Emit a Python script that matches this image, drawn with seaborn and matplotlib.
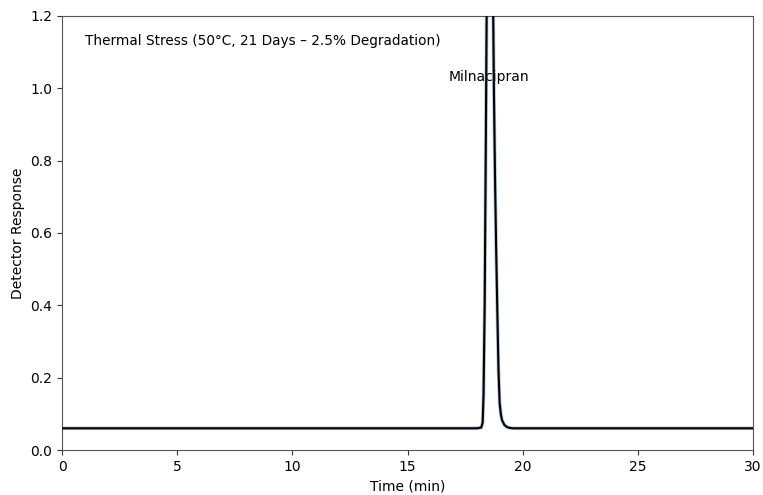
import matplotlib
matplotlib.use("Agg")
import matplotlib.pyplot as plt
import seaborn as sns
import pandas as pd

# Chromatogram trace: retention time (min) and detector response
time_min = [0.0, 5.0, 10.0, 15.0, 18.0, 18.2, 18.26, 18.3, 18.35, 18.4, 18.45,
            18.5, 18.55, 18.6, 18.65, 18.7, 18.75, 18.8, 18.85, 18.9, 18.95,
            19.0, 19.05, 19.1, 19.2, 19.3, 19.45, 19.6, 25.0, 30.0]
response = [0.060, 0.060, 0.060, 0.060, 0.060, 0.062, 0.075, 0.15, 0.40, 0.85, 1.35,
            1.95, 2.45, 2.75, 2.20, 1.35, 1.00, 0.75, 0.55, 0.38, 0.22,
            0.13, 0.10, 0.083, 0.070, 0.064, 0.061, 0.060, 0.060, 0.060]

peak_label = "Milnacipran"
peak_label_pos = (18.55, 1.03)
condition_text = "Thermal Stress (50\u00b0C, 21 Days \u2013 2.5% Degradation)"

x_ticks = [0, 5, 10, 15, 20, 25, 30]
y_ticks = [0.0, 0.2, 0.4, 0.6, 0.8, 1.0, 1.2]

sns.set_style("ticks")
plt.rcParams["font.family"] = ["DejaVu Sans"]
plt.rcParams["text.color"] = "black"
plt.rcParams["axes.labelcolor"] = "black"

df = pd.DataFrame({"Time (min)": time_min, "Detector Response": response})

fig = plt.figure(figsize=(7.63, 4.95), dpi=100)
ax = fig.add_axes([0.0813, 0.0909, 0.9056, 0.8768])

# soft blue underlay, then the black trace on top
sns.lineplot(data=df, x="Time (min)", y="Detector Response", ax=ax,
             color="#4a7fb0", linewidth=2.6, alpha=0.45, estimator=None,
             sort=False, zorder=3)
sns.lineplot(data=df, x="Time (min)", y="Detector Response", ax=ax,
             color="black", linewidth=1.5, estimator=None, sort=False, zorder=4)

ax.text(peak_label_pos[0], peak_label_pos[1], peak_label, ha="center",
        va="center", fontsize=10, color="black", zorder=2)
ax.text(0.033, 0.942, condition_text, transform=ax.transAxes, ha="left",
        va="center", fontsize=9.8, color="black")

ax.set_xlim(0, 30)
ax.set_ylim(0, 1.2)
ax.set_xticks(x_ticks)
ax.set_yticks(y_ticks)
ax.set_xlabel("Time (min)", fontsize=10, color="black")
ax.set_ylabel("Detector Response", fontsize=10, color="black")
for s in ax.spines.values():
    s.set_visible(True)
    s.set_color("#555555")
ax.tick_params(colors="#333333", labelcolor="black", labelsize=10)

fig.savefig("out.png", dpi=100)
